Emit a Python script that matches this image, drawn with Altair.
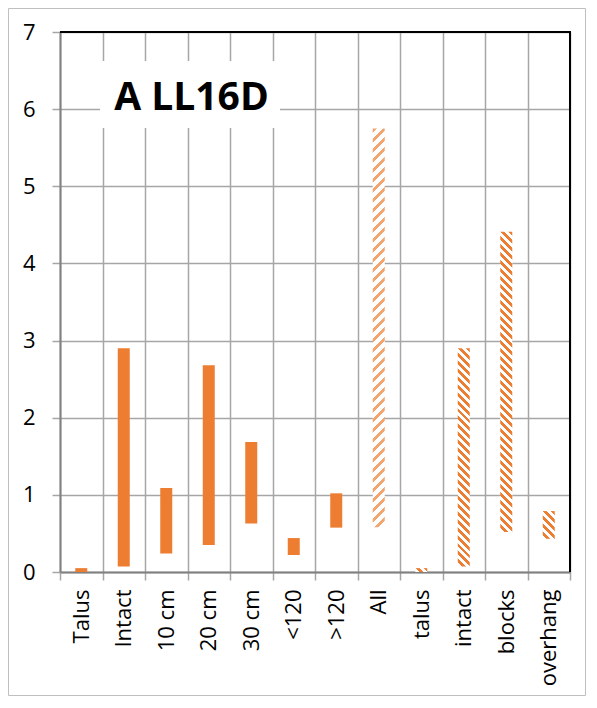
import altair as alt
import pandas as pd

# ---------------- data ----------------
categories = ["Talus", "Intact", "10 cm", "20 cm", "30 cm", "<120", ">120",
              "All", "talus", "intact", "blocks", "overhang"]
low  = [0.00, 0.07, 0.24, 0.35, 0.63, 0.22, 0.575, 0.58, 0.00, 0.07, 0.52, 0.43]
high = [0.05, 2.90, 1.09, 2.68, 1.685, 0.44, 1.02, 5.75, 0.05, 2.90, 4.41, 0.79]
pattern = ["solid", "solid", "solid", "solid", "solid", "solid", "solid",
           "light", "hatch", "hatch", "hatch", "hatch"]
y_ticks = [0, 1, 2, 3, 4, 5, 6, 7]
panel_title = ["A LL16D"]

# ---------------- layout / style ----------------
W, H = 510, 540
YMAX = 7
BAR_W = 12
ORANGE = "#ED7D31"
LIGHT = "#F3A56F"
GRID = "#A6A6A6"
FONT = "Open Sans"
TOTAL_W, TOTAL_H = 578, 688
PAD = {"left": 52, "top": 24, "right": TOTAL_W - 52 - W, "bottom": TOTAL_H - 24 - H}

df = pd.DataFrame({"category": categories, "low": low, "high": high, "pattern": pattern})

x_scale = alt.Scale(domain=categories, paddingInner=0, paddingOuter=0)
y_scale = alt.Scale(domain=[0, YMAX], nice=False)

x_axis = alt.Axis(title=None, labelAngle=-90, labelFont=FONT, labelFontSize=22,
                  labelColor="black", labelPadding=9, tickBand="extent",
                  tickSize=8, tickColor=GRID, tickWidth=1.5,
                  domainColor="#808080", domainWidth=2,
                  grid=True, gridColor=GRID, gridWidth=1.5)
y_axis = alt.Axis(title=None, values=y_ticks, labelFont=FONT, labelFontSize=22,
                  labelColor="black", labelPadding=17, tickSize=8,
                  tickColor=GRID, tickWidth=1.5, domainColor="#808080",
                  domainWidth=2, grid=True, gridColor=GRID, gridWidth=1.5)


def stripes(w, h, period, color, duty, direction):
    L = w + h
    n = max(1, int(round(L / period)))
    stops = []
    for i in range(n):
        a, b, e = i / n, (i + duty) / n, (i + 1) / n
        stops += [{"offset": a, "color": color}, {"offset": b, "color": color},
                  {"offset": b, "color": "white"}, {"offset": e, "color": "white"}]
    c = L / (w * w + h * h)
    if direction == "down":
        x1, y1, x2, y2 = 1, 0, 1 - c * w, c * h
    else:
        x1, y1, x2, y2 = 0, 0, c * w, c * h
    return {"gradient": "linear", "x1": x1, "y1": y1, "x2": x2, "y2": y2, "stops": stops}


layers = []

# outer frame of the figure
frame = alt.Chart(pd.DataFrame({"k": [0]})).mark_rect(
    filled=False, stroke="#BFBFBF", strokeWidth=1
).encode(x=alt.value(-PAD["left"] + 0.5), x2=alt.value(W + PAD["right"] - 0.5),
         y=alt.value(-PAD["top"] + 0.5), y2=alt.value(H + PAD["bottom"] - 0.5))
layers.append(frame)

solid = alt.Chart(df).transform_filter(
    alt.FieldEqualPredicate(field="pattern", equal="solid")
).mark_bar(width=BAR_W, color=ORANGE).encode(
    x=alt.X("category:N", scale=x_scale, axis=x_axis),
    y=alt.Y("low:Q", scale=y_scale, axis=y_axis),
    y2="high:Q",
)
layers.append(solid)

for cat, lo, hi, pat in zip(categories, low, high, pattern):
    if pat == "solid":
        continue
    hpx = (hi - lo) * H / YMAX
    if pat == "light":
        grad = stripes(BAR_W, hpx, 10, LIGHT, 0.4, "up")
    else:
        grad = stripes(BAR_W, hpx, 8, ORANGE, 0.5, "down")
    layer = alt.Chart(df).transform_filter(
        alt.FieldEqualPredicate(field="category", equal=cat)
    ).mark_bar(width=BAR_W, fill=grad).encode(
        x=alt.X("category:N", scale=x_scale, axis=x_axis),
        y=alt.Y("low:Q", scale=y_scale, axis=y_axis),
        y2="high:Q",
    )
    layers.append(layer)

tdf = pd.DataFrame({"t": panel_title})
title_box = alt.Chart(tdf).mark_rect(color="white").encode(
    x=alt.value(40), x2=alt.value(220), y=alt.value(29), y2=alt.value(96))
title_txt = alt.Chart(tdf).mark_text(
    font=FONT, fontSize=39, fontWeight="bold", color="black",
    align="center", baseline="alphabetic"
).encode(text="t:N", x=alt.value(131.5), y=alt.value(78))
layers += [title_box, title_txt]

edge = pd.DataFrame({"k": [0]})
top_rule = alt.Chart(edge).mark_rule(color="black", strokeWidth=2).encode(
    x=alt.value(0), x2=alt.value(W + 1), y=alt.value(0))
right_rule = alt.Chart(edge).mark_rule(color="black", strokeWidth=2).encode(
    x=alt.value(W), y=alt.value(-1), y2=alt.value(H))
layers += [top_rule, right_rule]

chart = alt.layer(*layers).properties(
    width=W, height=H, padding=PAD,
    autosize=alt.AutoSizeParams(type="none"),
    background="white",
).configure_view(stroke=None)

chart.save("out.html", embed_options={"renderer": "svg", "actions": False})
